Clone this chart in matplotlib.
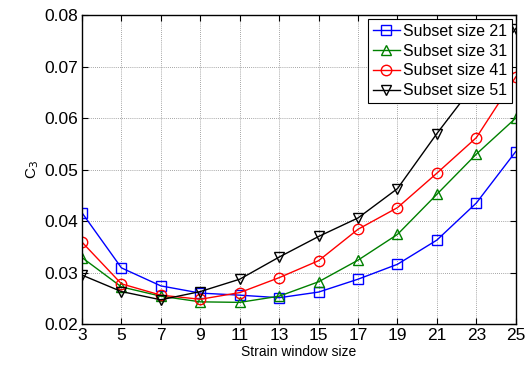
import matplotlib
matplotlib.use("Agg")
import matplotlib.pyplot as plt

plt.rcParams['font.family'] = ['Liberation Sans', 'DejaVu Sans']

window = [3, 5, 7, 9, 11, 13, 15, 17, 19, 21, 23, 25]
s21 = [0.0416, 0.0309, 0.0274, 0.0260, 0.0256, 0.0251, 0.0262, 0.0287, 0.0316, 0.0363, 0.0435, 0.0535]
s31 = [0.0329, 0.0272, 0.0254, 0.0243, 0.0242, 0.0254, 0.0282, 0.0324, 0.0374, 0.0452, 0.0530, 0.0600]
s41 = [0.0359, 0.0278, 0.0256, 0.0248, 0.0261, 0.0290, 0.0323, 0.0384, 0.0426, 0.0493, 0.0562, 0.0680]
s51 = [0.0295, 0.0263, 0.0247, 0.0263, 0.0287, 0.0330, 0.0370, 0.0406, 0.0463, 0.0570, 0.0670, 0.0774]
labels = ['Subset size 21', 'Subset size 31', 'Subset size 41', 'Subset size 51']

fig = plt.figure(figsize=(5.29, 3.69), dpi=100)
ax = fig.add_axes([0.155, 0.122, 0.82, 0.837])

series = [(s21, '#0000ff', 's'), (s31, '#008000', '^'), (s41, '#ff0000', 'o'), (s51, '#000000', 'v')]
for (vals, c, m), lab in zip(series, labels):
    ax.plot(window, vals, color=c, marker=m, markersize=7.5,
            markerfacecolor='none', markeredgecolor=c, linewidth=1.0,
            markeredgewidth=1.0, label=lab)

ax.set_xlim(3, 25)
ax.set_ylim(0.02, 0.08)
ax.set_xticks(window)
ax.set_yticks([0.02, 0.03, 0.04, 0.05, 0.06, 0.07, 0.08])
ax.set_yticklabels(['0.02', '0.03', '0.04', '0.05', '0.06', '0.07', '0.08'])
ax.tick_params(direction='in', top=True, right=True, labelsize=12.5, length=4, width=0.8, pad=3)
ax.grid(True, linestyle=(0, (1, 1.5)), color='#888888', linewidth=0.6)
for sp in ax.spines.values():
    sp.set_linewidth(1.0)

ax.set_xlabel('Strain window size', fontsize=10, labelpad=1)
ax.set_ylabel('C$_3$', fontsize=11, labelpad=2)

leg = ax.legend(loc='upper right', fontsize=11.4, fancybox=False, framealpha=1,
                edgecolor='black', borderpad=0.3, labelspacing=0.3,
                handlelength=1.7, handletextpad=0.2, borderaxespad=0.25)
leg.get_frame().set_linewidth(0.8)

fig.savefig('out.png', dpi=100)
